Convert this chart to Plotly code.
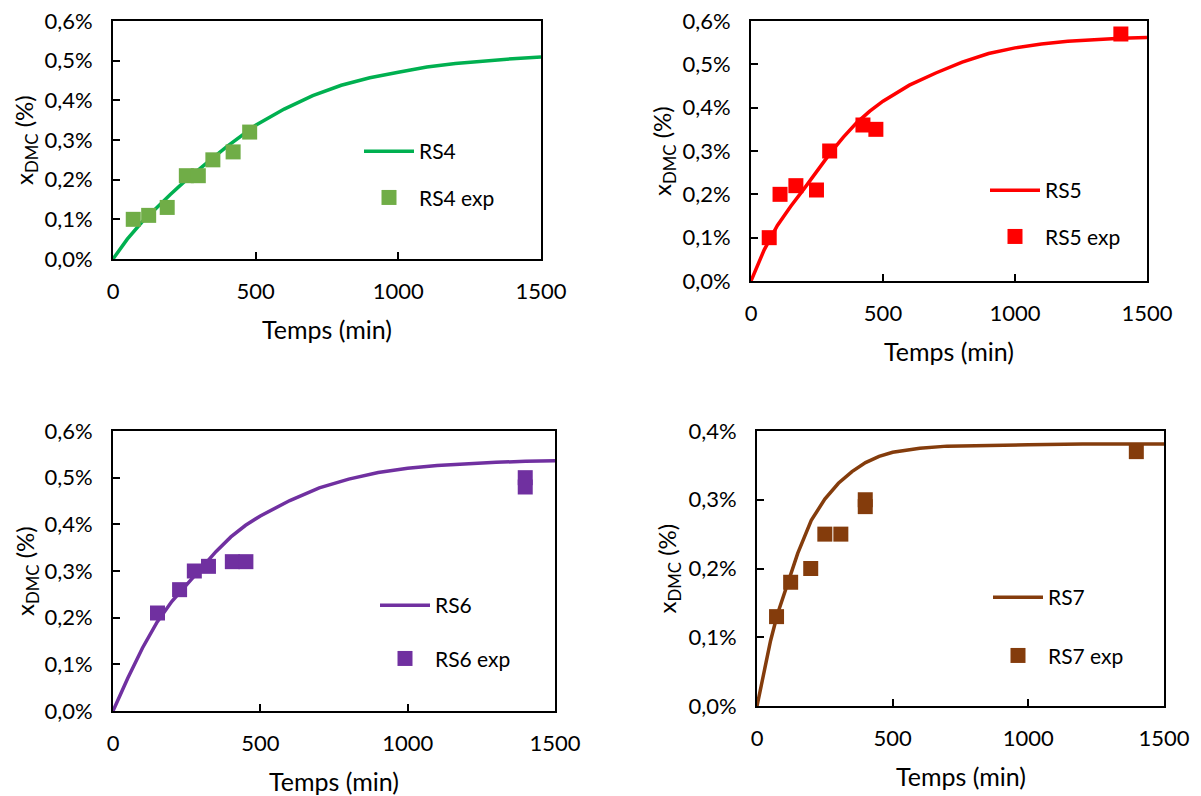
import plotly.graph_objects as go

W, H = 1201, 796
OFF = 8  # page body margin around the plot div

# ---- data ----
x_ticks = [0, 500, 1000, 1500]
y_ticks_06 = [0.0, 0.1, 0.2, 0.3, 0.4, 0.5, 0.6]
y_text_06 = ["0,0%", "0,1%", "0,2%", "0,3%", "0,4%", "0,5%", "0,6%"]
y_ticks_04 = [0.0, 0.1, 0.2, 0.3, 0.4]
y_text_04 = ["0,0%", "0,1%", "0,2%", "0,3%", "0,4%"]

rs4_t = [0, 50, 100, 150, 200, 250, 300, 350, 400, 450, 500, 600, 700, 800, 900, 1000, 1100, 1200, 1300, 1400, 1500]
rs4_y = [0, 0.050, 0.092, 0.128, 0.162, 0.195, 0.226, 0.255, 0.284, 0.311, 0.337, 0.378, 0.412, 0.438, 0.457, 0.471, 0.484, 0.493, 0.500, 0.505, 0.509]
rs4_exp_t = [71, 125, 190, 257, 299, 350, 421, 479]
rs4_exp_y = [0.10, 0.11, 0.13, 0.21, 0.21, 0.25, 0.27, 0.32]

rs5_t = [0, 50, 100, 150, 200, 250, 300, 350, 400, 450, 500, 600, 700, 800, 900, 1000, 1100, 1200, 1300, 1400, 1500]
rs5_y = [0, 0.072, 0.128, 0.172, 0.212, 0.254, 0.295, 0.332, 0.365, 0.392, 0.415, 0.452, 0.480, 0.505, 0.525, 0.538, 0.547, 0.553, 0.557, 0.560, 0.562]
rs5_exp_t = [69, 110, 170, 248, 298, 424, 473, 1401]
rs5_exp_y = [0.10, 0.20, 0.22, 0.21, 0.30, 0.36, 0.35, 0.57]

rs6_t = [0, 50, 100, 150, 200, 250, 300, 350, 400, 450, 500, 600, 700, 800, 900, 1000, 1100, 1200, 1300, 1400, 1500]
rs6_y = [0, 0.070, 0.135, 0.191, 0.235, 0.270, 0.307, 0.342, 0.373, 0.398, 0.418, 0.451, 0.478, 0.497, 0.511, 0.520, 0.526, 0.530, 0.533, 0.535, 0.536]
rs6_exp_t = [151, 226, 276, 324, 405, 451, 1399, 1399]
rs6_exp_y = [0.21, 0.26, 0.30, 0.31, 0.32, 0.32, 0.50, 0.48]

rs7_t = [0, 25, 50, 75, 100, 125, 150, 200, 250, 300, 350, 400, 450, 500, 600, 700, 800, 1000, 1200, 1500]
rs7_y = [0, 0.050, 0.095, 0.133, 0.163, 0.195, 0.222, 0.270, 0.301, 0.324, 0.341, 0.354, 0.363, 0.369, 0.375, 0.378, 0.379, 0.380, 0.381, 0.381]
rs7_exp_t = [72, 124, 198, 250, 309, 399, 399, 1398]
rs7_exp_y = [0.13, 0.18, 0.20, 0.25, 0.25, 0.30, 0.29, 0.37]

FONT = "Lato"
FW, FH = W - OFF, H - OFF


def fx(px):
    return (px - OFF) / FW


def fy(py):
    return 1 - (py - OFF) / FH


# panel boxes in screen pixels: left, top, right, bottom
panels = [
    dict(name="RS4", t=rs4_t, y=rs4_y, et=rs4_exp_t, ey=rs4_exp_y,
         line="#00B050", mark="#70AD47", box=(113, 21, 541, 259),
         yt=y_ticks_06, ytext=y_text_06, ymax=0.6, ytitle_x=26,
         leg=(359, 131), gap=16),
    dict(name="RS5", t=rs5_t, y=rs5_y, et=rs5_exp_t, ey=rs5_exp_y,
         line="#FF0000", mark="#FF0000", box=(751, 21, 1147, 281),
         yt=y_ticks_06, ytext=y_text_06, ymax=0.6, ytitle_x=664,
         leg=(985, 170), gap=16),
    dict(name="RS6", t=rs6_t, y=rs6_y, et=rs6_exp_t, ey=rs6_exp_y,
         line="#7030A0", mark="#7030A0", box=(113, 431, 555, 711),
         yt=y_ticks_06, ytext=y_text_06, ymax=0.6, ytitle_x=26,
         leg=(375, 585), gap=23),
    dict(name="RS7", t=rs7_t, y=rs7_y, et=rs7_exp_t, ey=rs7_exp_y,
         line="#843C0C", mark="#843C0C", box=(757, 431, 1164, 706),
         yt=y_ticks_04, ytext=y_text_04, ymax=0.4, ytitle_x=668,
         leg=(988, 577), gap=28),
]

fig = go.Figure()
annotations = []

for i, p in enumerate(panels):
    n = "" if i == 0 else str(i + 1)
    leg = "legend" + n
    l, t, r, b = p["box"]
    fig.add_trace(go.Scatter(
        x=p["t"], y=p["y"], mode="lines", name=p["name"],
        line=dict(color=p["line"], width=3.5),
        xaxis="x" + n, yaxis="y" + n, legend=leg, legendgroup=p["name"] + "a"))
    fig.add_trace(go.Scatter(
        x=p["et"], y=p["ey"], mode="markers", name=p["name"] + " exp",
        marker=dict(color=p["mark"], symbol="square", size=15),
        xaxis="x" + n, yaxis="y" + n, legend=leg, legendgroup=p["name"] + "b"))

    axis_common = dict(showline=True, linecolor="black", linewidth=2, mirror=True,
                       ticks="inside", ticklen=7, tickwidth=1.5, tickcolor="black",
                       showgrid=False, zeroline=False, automargin=False,
                       ticklabeloverflow="allow",
                       tickfont=dict(family=FONT, size=22, color="black"))
    fig.layout["xaxis" + n] = dict(
        domain=[fx(l), fx(r)], anchor="y" + n, range=[0, 1500],
        tickvals=x_ticks, ticktext=[str(v) for v in x_ticks],
        ticklabelstandoff=12, **axis_common)
    fig.layout["yaxis" + n] = dict(
        domain=[fy(b), fy(t)], anchor="x" + n, range=[0, p["ymax"]],
        tickvals=p["yt"], ticktext=p["ytext"], ticklabelstandoff=14, **axis_common)

    fig.layout[leg] = dict(
        x=fx(p["leg"][0]), y=fy(p["leg"][1]), xanchor="left", yanchor="top",
        bgcolor="rgba(0,0,0,0)", font=dict(family=FONT, size=21, color="black"),
        itemwidth=50, traceorder="grouped", tracegroupgap=p["gap"])

    annotations.append(dict(
        x=fx((l + r) / 2), y=fy(b + 70), xref="paper", yref="paper",
        xanchor="center", yanchor="middle",
        text="Temps (min)", showarrow=False,
        font=dict(family=FONT, size=25, color="black")))
    annotations.append(dict(
        x=fx(p["ytitle_x"]), y=fy((t + b) / 2), xref="paper", yref="paper",
        xanchor="center", yanchor="middle",
        text="x<sub>DMC</sub> (%)", textangle=-90, showarrow=False,
        font=dict(family=FONT, size=24, color="black")))

fig.update_layout(
    width=FW, height=FH,
    margin=dict(l=0, r=0, t=0, b=0, autoexpand=False),
    plot_bgcolor="white", paper_bgcolor="white",
    showlegend=True,
    annotations=annotations,
)

fig.write_html("out.html")
